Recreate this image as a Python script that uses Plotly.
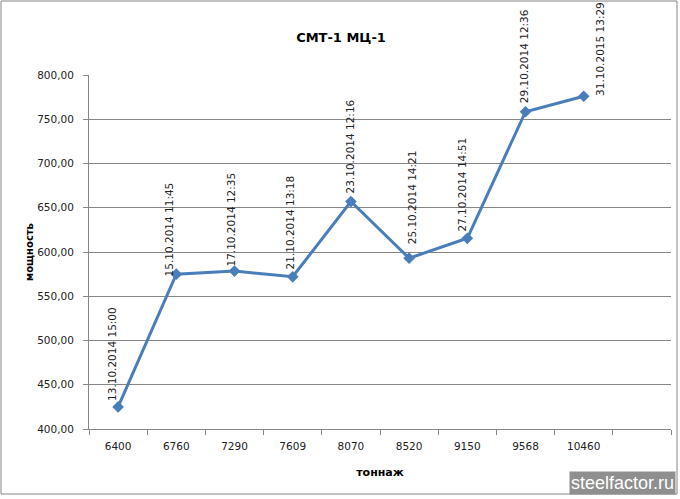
import plotly.graph_objects as go

# ---- data ----
tonnage = ["6400", "6760", "7290", "7609", "8070", "8520", "9150", "9568", "10460"]
power = [425.0, 575.0, 578.5, 572.0, 657.0, 593.0, 615.5, 758.5, 776.0]
timestamps = [
    "13.10.2014 15:00", "15.10.2014 11:45", "17.10.2014 12:35", "21.10.2014 13:18",
    "23.10.2014 12:16", "25.10.2014 14:21", "27.10.2014 14:51", "29.10.2014 12:36",
    "31.10.2015 13:29",
]
y_ticks = [400, 450, 500, 550, 600, 650, 700, 750, 800]

# label offsets (pixels) relative to each point
label_dx = [-6, -7, -3, -3, -1, 3, -5, -2, 17]
label_dy = [4, -4, 2, 5, 6, 12, 5, 6, -2]

W, H = 680, 499
ML, MR, MT, MB = 89, 9, 75, 70
pw, ph = W - ML - MR, H - MT - MB

def px_x(p):
    return (p - ML) / pw

def px_y(p):
    return (H - MB - p) / ph

xs = list(range(len(tonnage)))

fig = go.Figure()
fig.add_trace(go.Scatter(
    x=xs, y=power, mode="lines+markers",
    line=dict(color="#4A7EBB", width=3),
    marker=dict(symbol="diamond", size=9, color="#4A7EBB"),
    hoverinfo="skip", showlegend=False,
))

for i, (v, t) in enumerate(zip(power, timestamps)):
    fig.add_annotation(
        x=xs[i], y=v, text=t, textangle=-90, showarrow=False,
        xanchor="center", yanchor="bottom",
        xshift=label_dx[i], yshift=label_dy[i],
        font=dict(family="DejaVu Sans", size=10.5, color="#222222"),
    )

fig.update_layout(
    width=W, height=H,
    margin=dict(l=ML, r=MR, t=MT, b=MB),
    paper_bgcolor="white", plot_bgcolor="white",
    separators=", ",
    title=dict(text="<b>СМТ-1 МЦ-1</b>", x=341 / W, xanchor="center",
               y=1 - 37 / H, yanchor="middle",
               font=dict(family="DejaVu Sans", size=13, color="#000000")),
    xaxis=dict(
        range=[-0.5, len(tonnage) + 0.5],
        tickvals=xs, ticktext=tonnage, ticks="",
        ticklabelstandoff=7,
        showgrid=False, zeroline=False,
        showline=True, linecolor="#868686", linewidth=1,
        tickfont=dict(family="DejaVu Sans", size=10.5, color="#222222"),
        minor=dict(ticks="outside", tick0=-0.5, dtick=1, ticklen=5,
                   tickcolor="#868686", showgrid=False),
        title=dict(text="<b>тоннаж</b>", standoff=17,
                   font=dict(family="DejaVu Sans", size=11, color="#000000")),
        fixedrange=True,
    ),
    yaxis=dict(
        range=[400, 800], tickvals=y_ticks, tickformat=".2f",
        ticks="outside", ticklen=5, tickcolor="#868686",
        ticklabelstandoff=7,
        showgrid=True, gridcolor="#868686", gridwidth=1,
        zeroline=False, showline=True, linecolor="#868686", linewidth=1,
        tickfont=dict(family="DejaVu Sans", size=10.5, color="#222222"),
        title=dict(text="<b>мощность</b>", standoff=1,
                   font=dict(family="DejaVu Sans", size=10, color="#000000")),
        fixedrange=True,
    ),
)

# outer chart border
fig.add_shape(type="rect", xref="paper", yref="paper",
              x0=px_x(1), x1=px_x(677), y0=px_y(494), y1=px_y(1),
              line=dict(color="#868686", width=1), fillcolor="rgba(0,0,0,0)",
              layer="below")

# watermark
fig.add_annotation(
    xref="paper", yref="paper", x=px_x(676), y=px_y(495),
    xanchor="right", yanchor="bottom", showarrow=False,
    text="steelfactor.ru", bgcolor="#8F8F8F", borderpad=1,
    font=dict(family="Liberation Sans, Arial, sans-serif", size=18, color="white"),
)

fig.write_html("out.html",
               config={"displayModeBar": False},
               post_script="document.body.style.margin='0';document.body.style.overflow='hidden';")
